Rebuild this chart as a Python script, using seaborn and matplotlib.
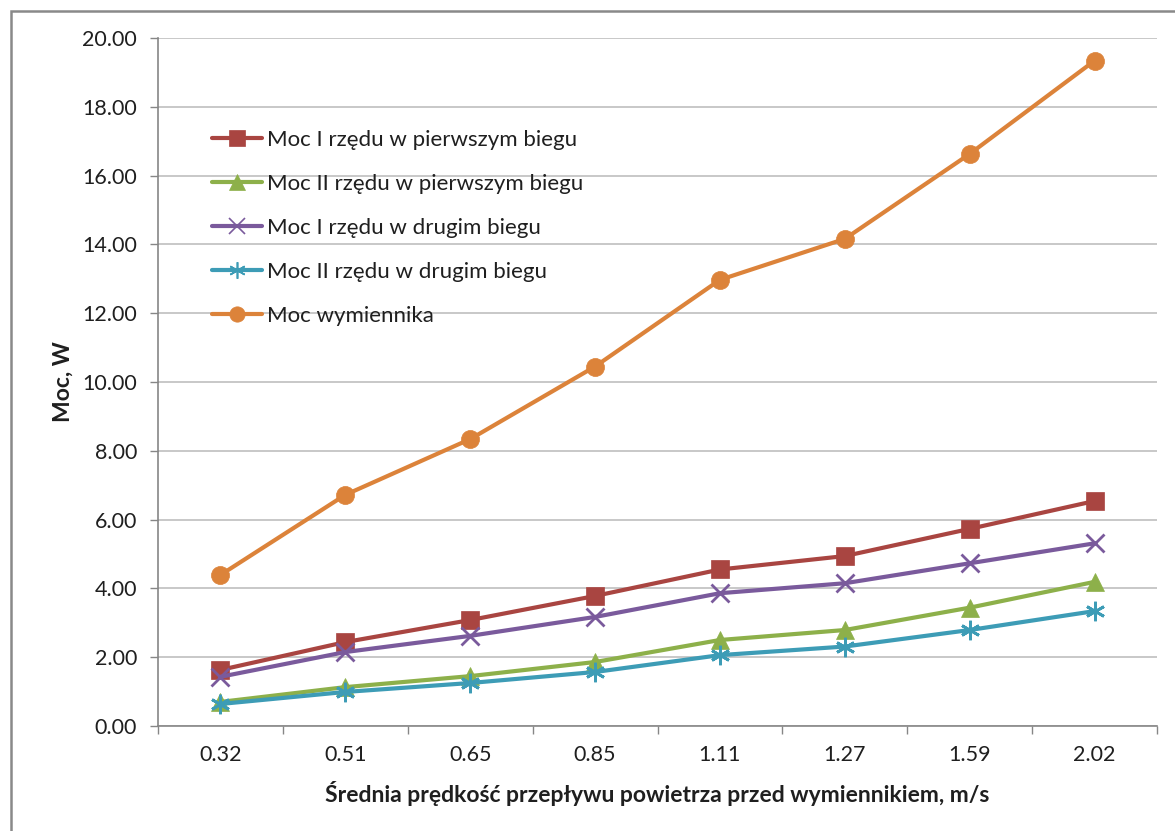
import matplotlib
matplotlib.use("Agg")
import matplotlib.pyplot as plt
from matplotlib.lines import Line2D
from matplotlib.patches import Rectangle
import seaborn as sns
import pandas as pd
import numpy as np

# Average air velocity before the heat exchanger (category labels)
velocities = ["0.32", "0.51", "0.65", "0.85", "1.11", "1.27", "1.59", "2.02"]

moc_I_pierwszy = [1.63, 2.44, 3.08, 3.78, 4.55, 4.94, 5.73, 6.54]
moc_II_pierwszy = [0.70, 1.13, 1.45, 1.86, 2.50, 2.79, 3.44, 4.19]
moc_I_drugi = [1.43, 2.15, 2.62, 3.17, 3.86, 4.15, 4.73, 5.31]
moc_II_drugi = [0.64, 0.99, 1.25, 1.57, 2.06, 2.31, 2.79, 3.34]
moc_wymiennika = [4.39, 6.72, 8.34, 10.45, 12.97, 14.16, 16.63, 19.34]

series_names = [
    "Moc I rzędu w pierwszym biegu",
    "Moc II rzędu w pierwszym biegu",
    "Moc I rzędu w drugim biegu",
    "Moc II rzędu w drugim biegu",
    "Moc wymiennika",
]
series_values = [moc_I_pierwszy, moc_II_pierwszy, moc_I_drugi, moc_II_drugi, moc_wymiennika]

y_ticks = [0, 2, 4, 6, 8, 10, 12, 14, 16, 18, 20]

colors = ["#A94541", "#8DB04A", "#7A5A9C", "#3D9CB6", "#DC833A"]
marker_styles = ["s", "^", "x", (6, 2, 0), "o"]
marker_sizes = [13, 13, 13, 14, 13]

sns.set_theme(style="white")
plt.rcParams["font.family"] = ["Lato", "DejaVu Sans"]
text_color = "#1f1f1f"

rows = []
for name, vals in zip(series_names, series_values):
    for i, (v, y) in enumerate(zip(velocities, vals)):
        rows.append({"pos": i, "velocity": v, "Moc": y, "series": name})
df = pd.DataFrame(rows)

fig = plt.figure(figsize=(11.75, 8.31), dpi=100)
ax = fig.add_axes([158 / 1175, 1 - 726 / 831, 999 / 1175, 688 / 831])

for name, col, mk, ms in zip(series_names, colors, marker_styles, marker_sizes):
    sub = df[df["series"] == name]
    sns.lineplot(
        data=sub, x="pos", y="Moc", ax=ax, color=col, linewidth=3.0,
        marker=mk, markersize=ms, markeredgecolor=col, markerfacecolor=col,
        markeredgewidth=2.0 if mk in ("x", (6, 2, 0)) else 0.5,
        sort=False, legend=False, zorder=3,
    )

ax.set_xlim(-0.5, len(velocities) - 0.5)
ax.set_ylim(0, 20)

# y axis
ax.set_yticks(y_ticks)
ax.set_yticklabels([f"{t:.2f}" for t in y_ticks])
ax.yaxis.grid(True, color="#BFBFBF", linewidth=1.2)
ax.xaxis.grid(False)
ax.tick_params(axis="y", which="major", direction="out", length=6, width=1,
               color="#868686", labelsize=15.5, labelcolor=text_color, pad=9, left=True)

# x axis: ticks on category boundaries, labels in the middle of categories
ax.set_xticks(np.arange(-0.5, len(velocities)), minor=False)
ax.set_xticklabels([""] * (len(velocities) + 1))
ax.set_xticks(np.arange(len(velocities)), minor=True)
ax.set_xticklabels(velocities, minor=True)
ax.tick_params(axis="x", which="major", direction="out", length=6, width=1,
               color="#868686", bottom=True)
ax.tick_params(axis="x", which="minor", length=0, labelsize=15.5,
               labelcolor=text_color, pad=14)

for side in ("top", "right"):
    ax.spines[side].set_visible(False)
for side in ("left", "bottom"):
    ax.spines[side].set_color("#868686")
    ax.spines[side].set_linewidth(1.2)

ax.set_xlabel("Średnia prędkość przepływu powietrza przed wymiennikiem, m/s",
              fontsize=16.5, fontweight="bold", color=text_color, labelpad=11)
ax.set_ylabel("Moc, W", fontsize=16.5, fontweight="bold", color=text_color, labelpad=6)

handles = [
    Line2D([], [], color=c, linewidth=3.0, marker=m, markersize=s * 0.85,
           markeredgecolor=c, markerfacecolor=c,
           markeredgewidth=1.2 if m in ("x", (6, 2, 0)) else 0.5)
    for c, m, s in zip(colors, marker_styles, marker_sizes)
]
leg = ax.legend(handles, series_names, loc="upper left",
                bbox_to_anchor=(45 / 999, 1 - 83 / 688), frameon=False,
                fontsize=16, handlelength=2.25, handletextpad=0.22,
                labelspacing=1.08, borderaxespad=0)
for t in leg.get_texts():
    t.set_color(text_color)

# chart-area border
fig.patches.append(Rectangle((11 / 1175, -0.05), 1.2, 1 - 11 / 831 + 0.05,
                             transform=fig.transFigure, fill=False,
                             edgecolor="#898989", linewidth=1.8, zorder=0))

fig.savefig("out.png", dpi=100)
